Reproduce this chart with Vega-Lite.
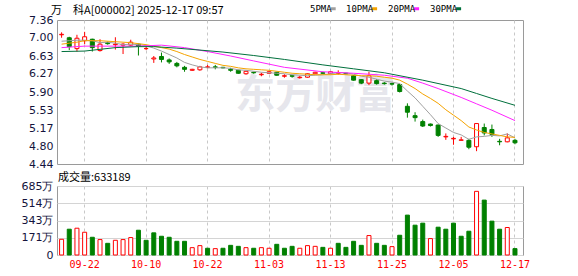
{
  "$schema": "https://vega.github.io/schema/vega-lite/v6.json",
  "padding": {"left": 0, "top": 4, "right": 0, "bottom": 0},
  "background": "white",
  "spacing": 1,
  "config": {
    "view": {"stroke": "#9a9a9a", "strokeWidth": 1},
    "font": "DejaVu Sans",
    "title": {"font": "Noto Sans CJK SC", "fontSize": 11, "fontWeight": "normal", "color": "#000000", "anchor": "start", "frame": "group"}
  },
  "resolve": {"scale": {"x": "independent", "y": "independent"}},
  "datasets": {
    "k": [
      {"d":"09-17","o":7.06,"h":7.11,"l":7.00,"c":7.07,"v":156,"up":1},
      {"d":"09-18","o":7.00,"h":7.02,"l":6.75,"c":6.82,"v":256,"up":0},
      {"d":"09-19","o":6.78,"h":7.06,"l":6.72,"c":6.99,"v":266,"up":1},
      {"d":"09-22","o":6.94,"h":7.12,"l":6.87,"c":7.02,"v":226,"up":1},
      {"d":"09-23","o":6.97,"h":6.98,"l":6.72,"c":6.80,"v":176,"up":0},
      {"d":"09-24","o":6.74,"h":6.97,"l":6.72,"c":6.87,"v":153,"up":1},
      {"d":"09-25","o":6.90,"h":6.92,"l":6.86,"c":6.88,"v":116,"up":0},
      {"d":"09-26","o":6.86,"h":7.01,"l":6.76,"c":6.87,"v":146,"up":1},
      {"d":"09-29","o":6.85,"h":6.89,"l":6.67,"c":6.87,"v":153,"up":1},
      {"d":"09-30","o":6.85,"h":6.96,"l":6.83,"c":6.91,"v":173,"up":1},
      {"d":"10-09","o":6.87,"h":6.88,"l":6.64,"c":6.83,"v":246,"up":0},
      {"d":"10-10","o":6.78,"h":6.83,"l":6.75,"c":6.78,"v":146,"up":0},
      {"d":"10-13","o":6.57,"h":6.63,"l":6.49,"c":6.59,"v":220,"up":0},
      {"d":"10-14","o":6.62,"h":6.70,"l":6.50,"c":6.56,"v":186,"up":0},
      {"d":"10-15","o":6.55,"h":6.58,"l":6.47,"c":6.51,"v":176,"up":0},
      {"d":"10-16","o":6.48,"h":6.51,"l":6.40,"c":6.43,"v":136,"up":0},
      {"d":"10-17","o":6.40,"h":6.43,"l":6.31,"c":6.36,"v":136,"up":0},
      {"d":"10-20","o":6.34,"h":6.37,"l":6.33,"c":6.36,"v":73,"up":1},
      {"d":"10-21","o":6.35,"h":6.43,"l":6.33,"c":6.41,"v":93,"up":1},
      {"d":"10-22","o":6.40,"h":6.45,"l":6.38,"c":6.41,"v":67,"up":0},
      {"d":"10-23","o":6.41,"h":6.45,"l":6.36,"c":6.40,"v":63,"up":1},
      {"d":"10-24","o":6.40,"h":6.41,"l":6.38,"c":6.39,"v":67,"up":0},
      {"d":"10-27","o":6.36,"h":6.39,"l":6.31,"c":6.34,"v":96,"up":0},
      {"d":"10-28","o":6.34,"h":6.35,"l":6.27,"c":6.28,"v":86,"up":0},
      {"d":"10-29","o":6.27,"h":6.33,"l":6.25,"c":6.32,"v":73,"up":1},
      {"d":"10-30","o":6.30,"h":6.31,"l":6.27,"c":6.29,"v":67,"up":0},
      {"d":"10-31","o":6.25,"h":6.29,"l":6.22,"c":6.26,"v":73,"up":1},
      {"d":"11-03","o":6.28,"h":6.33,"l":6.27,"c":6.31,"v":67,"up":1},
      {"d":"11-04","o":6.30,"h":6.31,"l":6.23,"c":6.24,"v":106,"up":0},
      {"d":"11-05","o":6.22,"h":6.26,"l":6.19,"c":6.23,"v":67,"up":0},
      {"d":"11-06","o":6.23,"h":6.25,"l":6.19,"c":6.22,"v":86,"up":0},
      {"d":"11-07","o":6.19,"h":6.23,"l":6.17,"c":6.20,"v":67,"up":1},
      {"d":"11-10","o":6.20,"h":6.28,"l":6.19,"c":6.27,"v":93,"up":1},
      {"d":"11-11","o":6.27,"h":6.31,"l":6.26,"c":6.30,"v":86,"up":1},
      {"d":"11-12","o":6.29,"h":6.31,"l":6.27,"c":6.28,"v":76,"up":0},
      {"d":"11-13","o":6.27,"h":6.32,"l":6.27,"c":6.31,"v":67,"up":1},
      {"d":"11-14","o":6.28,"h":6.34,"l":6.25,"c":6.29,"v":116,"up":0},
      {"d":"11-17","o":6.28,"h":6.29,"l":6.26,"c":6.27,"v":76,"up":0},
      {"d":"11-18","o":6.23,"h":6.24,"l":6.13,"c":6.14,"v":136,"up":0},
      {"d":"11-19","o":6.15,"h":6.16,"l":6.06,"c":6.08,"v":96,"up":0},
      {"d":"11-20","o":6.08,"h":6.31,"l":6.04,"c":6.23,"v":193,"up":1},
      {"d":"11-21","o":6.13,"h":6.16,"l":6.05,"c":6.07,"v":116,"up":0},
      {"d":"11-24","o":6.08,"h":6.10,"l":6.05,"c":6.07,"v":96,"up":0},
      {"d":"11-25","o":6.07,"h":6.09,"l":6.03,"c":6.06,"v":83,"up":1},
      {"d":"11-26","o":6.05,"h":6.07,"l":5.89,"c":5.91,"v":196,"up":0},
      {"d":"11-27","o":5.61,"h":5.67,"l":5.38,"c":5.49,"v":396,"up":0},
      {"d":"11-28","o":5.42,"h":5.49,"l":5.30,"c":5.38,"v":296,"up":0},
      {"d":"12-01","o":5.30,"h":5.34,"l":5.19,"c":5.21,"v":316,"up":0},
      {"d":"12-02","o":5.25,"h":5.26,"l":5.20,"c":5.22,"v":163,"up":1},
      {"d":"12-03","o":5.23,"h":5.24,"l":4.99,"c":5.02,"v":276,"up":0},
      {"d":"12-04","o":4.99,"h":5.06,"l":4.93,"c":5.00,"v":256,"up":0},
      {"d":"12-05","o":4.95,"h":4.99,"l":4.83,"c":4.96,"v":316,"up":0},
      {"d":"12-08","o":4.92,"h":4.99,"l":4.92,"c":4.93,"v":186,"up":0},
      {"d":"12-09","o":4.92,"h":4.95,"l":4.74,"c":4.78,"v":236,"up":0},
      {"d":"12-10","o":4.79,"h":5.27,"l":4.70,"c":5.26,"v":632,"up":1},
      {"d":"12-11","o":5.18,"h":5.26,"l":5.02,"c":5.07,"v":545,"up":0},
      {"d":"12-12","o":5.14,"h":5.24,"l":4.99,"c":5.04,"v":336,"up":0},
      {"d":"12-15","o":4.90,"h":4.95,"l":4.82,"c":4.89,"v":256,"up":0},
      {"d":"12-16","o":4.89,"h":5.06,"l":4.88,"c":4.97,"v":273,"up":1},
      {"d":"12-17","o":4.92,"h":4.95,"l":4.84,"c":4.87,"v":63.32,"up":0}
    ],
    "ma": [
      {"d":"09-17","m":"5PMA","p":6.93},{"d":"09-18","m":"5PMA","p":6.94},{"d":"09-19","m":"5PMA","p":6.95},{"d":"09-22","m":"5PMA","p":6.95},{"d":"09-23","m":"5PMA","p":6.94},{"d":"09-24","m":"5PMA","p":6.90},{"d":"09-25","m":"5PMA","p":6.91},{"d":"09-26","m":"5PMA","p":6.89},{"d":"09-29","m":"5PMA","p":6.86},{"d":"09-30","m":"5PMA","p":6.87},{"d":"10-09","m":"5PMA","p":6.86},{"d":"10-10","m":"5PMA","p":6.84},{"d":"10-13","m":"5PMA","p":6.79},{"d":"10-14","m":"5PMA","p":6.73},{"d":"10-15","m":"5PMA","p":6.66},{"d":"10-16","m":"5PMA","p":6.59},{"d":"10-17","m":"5PMA","p":6.50},{"d":"10-20","m":"5PMA","p":6.45},{"d":"10-21","m":"5PMA","p":6.41},{"d":"10-22","m":"5PMA","p":6.39},{"d":"10-23","m":"5PMA","p":6.39},{"d":"10-24","m":"5PMA","p":6.39},{"d":"10-27","m":"5PMA","p":6.38},{"d":"10-28","m":"5PMA","p":6.35},{"d":"10-29","m":"5PMA","p":6.34},{"d":"10-30","m":"5PMA","p":6.32},{"d":"10-31","m":"5PMA","p":6.30},{"d":"11-03","m":"5PMA","p":6.29},{"d":"11-04","m":"5PMA","p":6.28},{"d":"11-05","m":"5PMA","p":6.27},{"d":"11-06","m":"5PMA","p":6.25},{"d":"11-07","m":"5PMA","p":6.24},{"d":"11-10","m":"5PMA","p":6.23},{"d":"11-11","m":"5PMA","p":6.24},{"d":"11-12","m":"5PMA","p":6.25},{"d":"11-13","m":"5PMA","p":6.27},{"d":"11-14","m":"5PMA","p":6.29},{"d":"11-17","m":"5PMA","p":6.29},{"d":"11-18","m":"5PMA","p":6.26},{"d":"11-19","m":"5PMA","p":6.22},{"d":"11-20","m":"5PMA","p":6.20},{"d":"11-21","m":"5PMA","p":6.16},{"d":"11-24","m":"5PMA","p":6.12},{"d":"11-25","m":"5PMA","p":6.10},{"d":"11-26","m":"5PMA","p":6.07},{"d":"11-27","m":"5PMA","p":5.92},{"d":"11-28","m":"5PMA","p":5.78},{"d":"12-01","m":"5PMA","p":5.61},{"d":"12-02","m":"5PMA","p":5.44},{"d":"12-03","m":"5PMA","p":5.26},{"d":"12-04","m":"5PMA","p":5.17},{"d":"12-05","m":"5PMA","p":5.08},{"d":"12-08","m":"5PMA","p":5.03},{"d":"12-09","m":"5PMA","p":4.94},{"d":"12-10","m":"5PMA","p":4.99},{"d":"12-11","m":"5PMA","p":5.00},{"d":"12-12","m":"5PMA","p":5.02},{"d":"12-15","m":"5PMA","p":5.01},{"d":"12-16","m":"5PMA","p":5.05},{"d":"12-17","m":"5PMA","p":4.97},
      {"d":"09-17","m":"10PMA","p":6.87},{"d":"09-18","m":"10PMA","p":6.89},{"d":"09-19","m":"10PMA","p":6.91},{"d":"09-22","m":"10PMA","p":6.94},{"d":"09-24","m":"10PMA","p":6.94},{"d":"09-26","m":"10PMA","p":6.92},{"d":"09-30","m":"10PMA","p":6.90},{"d":"10-09","m":"10PMA","p":6.88},{"d":"10-10","m":"10PMA","p":6.86},{"d":"10-13","m":"10PMA","p":6.83},{"d":"10-14","m":"10PMA","p":6.80},{"d":"10-15","m":"10PMA","p":6.77},{"d":"10-16","m":"10PMA","p":6.72},{"d":"10-17","m":"10PMA","p":6.66},{"d":"10-20","m":"10PMA","p":6.61},{"d":"10-21","m":"10PMA","p":6.56},{"d":"10-22","m":"10PMA","p":6.52},{"d":"10-23","m":"10PMA","p":6.48},{"d":"10-24","m":"10PMA","p":6.44},{"d":"10-27","m":"10PMA","p":6.42},{"d":"10-28","m":"10PMA","p":6.39},{"d":"10-29","m":"10PMA","p":6.37},{"d":"10-30","m":"10PMA","p":6.36},{"d":"10-31","m":"10PMA","p":6.35},{"d":"11-03","m":"10PMA","p":6.34},{"d":"11-04","m":"10PMA","p":6.32},{"d":"11-05","m":"10PMA","p":6.30},{"d":"11-06","m":"10PMA","p":6.28},{"d":"11-07","m":"10PMA","p":6.27},{"d":"11-10","m":"10PMA","p":6.26},{"d":"11-11","m":"10PMA","p":6.25},{"d":"11-12","m":"10PMA","p":6.25},{"d":"11-13","m":"10PMA","p":6.25},{"d":"11-14","m":"10PMA","p":6.26},{"d":"11-17","m":"10PMA","p":6.25},{"d":"11-18","m":"10PMA","p":6.24},{"d":"11-19","m":"10PMA","p":6.23},{"d":"11-20","m":"10PMA","p":6.23},{"d":"11-21","m":"10PMA","p":6.22},{"d":"11-24","m":"10PMA","p":6.20},{"d":"11-25","m":"10PMA","p":6.18},{"d":"11-26","m":"10PMA","p":6.14},{"d":"11-27","m":"10PMA","p":6.06},{"d":"11-28","m":"10PMA","p":5.97},{"d":"12-01","m":"10PMA","p":5.86},{"d":"12-02","m":"10PMA","p":5.77},{"d":"12-03","m":"10PMA","p":5.67},{"d":"12-04","m":"10PMA","p":5.54},{"d":"12-05","m":"10PMA","p":5.43},{"d":"12-08","m":"10PMA","p":5.32},{"d":"12-09","m":"10PMA","p":5.19},{"d":"12-10","m":"10PMA","p":5.13},{"d":"12-11","m":"10PMA","p":5.08},{"d":"12-12","m":"10PMA","p":5.05},{"d":"12-15","m":"10PMA","p":5.02},{"d":"12-16","m":"10PMA","p":4.99},{"d":"12-17","m":"10PMA","p":4.98},
      {"d":"09-17","m":"20PMA","p":6.80},{"d":"09-22","m":"20PMA","p":6.83},{"d":"10-09","m":"20PMA","p":6.83},{"d":"10-14","m":"20PMA","p":6.85},{"d":"10-17","m":"20PMA","p":6.80},{"d":"10-22","m":"20PMA","p":6.72},{"d":"10-27","m":"20PMA","p":6.63},{"d":"10-30","m":"20PMA","p":6.53},{"d":"11-05","m":"20PMA","p":6.40},{"d":"11-12","m":"20PMA","p":6.31},{"d":"11-18","m":"20PMA","p":6.28},{"d":"11-24","m":"20PMA","p":6.24},{"d":"11-27","m":"20PMA","p":6.18},{"d":"12-01","m":"20PMA","p":6.08},{"d":"12-03","m":"20PMA","p":5.97},{"d":"12-08","m":"20PMA","p":5.79},{"d":"12-10","m":"20PMA","p":5.66},{"d":"12-12","m":"20PMA","p":5.53},{"d":"12-17","m":"20PMA","p":5.32},
      {"d":"09-17","m":"30PMA","p":6.72},{"d":"09-22","m":"30PMA","p":6.73},{"d":"09-26","m":"30PMA","p":6.80},{"d":"10-09","m":"30PMA","p":6.82},{"d":"10-13","m":"30PMA","p":6.82},{"d":"10-16","m":"30PMA","p":6.79},{"d":"10-21","m":"30PMA","p":6.75},{"d":"10-24","m":"30PMA","p":6.71},{"d":"10-30","m":"30PMA","p":6.64},{"d":"11-05","m":"30PMA","p":6.56},{"d":"11-12","m":"30PMA","p":6.45},{"d":"11-18","m":"30PMA","p":6.37},{"d":"11-24","m":"30PMA","p":6.29},{"d":"12-01","m":"30PMA","p":6.14},{"d":"12-08","m":"30PMA","p":5.97},{"d":"12-10","m":"30PMA","p":5.87},{"d":"12-12","m":"30PMA","p":5.77},{"d":"12-17","m":"30PMA","p":5.63}
    ]
  },
  "vconcat": [
    {
      "width": 466,
      "height": 144,
      "title": {"text": "万　科A[000002] 2025-12-17 09:57", "offset": -2, "dx": -6},
      "data": {"name": "k"},
      "encoding": {
        "x": {
          "field": "d", "type": "ordinal", "sort": null,
          "scale": {"type": "band", "paddingInner": 0, "paddingOuter": 0.32, "align": 0.15,
            "domain": ["09-17","09-18","09-19","09-22","09-23","09-24","09-25","09-26","09-29","09-30","10-09","10-10","10-13","10-14","10-15","10-16","10-17","10-20","10-21","10-22","10-23","10-24","10-27","10-28","10-29","10-30","10-31","11-03","11-04","11-05","11-06","11-07","11-10","11-11","11-12","11-13","11-14","11-17","11-18","11-19","11-20","11-21","11-24","11-25","11-26","11-27","11-28","12-01","12-02","12-03","12-04","12-05","12-08","12-09","12-10","12-11","12-12","12-15","12-16","12-17"]},
          "axis": {"values": ["09-22","10-10","10-22","11-03","11-13","11-25","12-05","12-17"], "labels": false, "ticks": false, "domain": false, "grid": true, "gridDash": [3,3], "gridColor": "#c8c8c8", "bandPosition": 0.5, "title": null}
        }
      },
      "layer": [
        {
          "data": {"values": [{"wm": "东方财富"}]},
          "mark": {"type": "text", "text": "东方财富", "font": "Noto Sans CJK SC", "fontSize": 40, "fontWeight": "bold", "color": "#e6e6ec", "align": "center", "baseline": "middle"},
          "encoding": {
            "x": {"datum": "11-11"},
            "y": {"datum": 5.81, "type": "quantitative", "scale": {"domain": [4.44, 7.36], "zero": false, "nice": false},
              "axis": {"values": [4.44,4.8,5.17,5.53,5.9,6.27,6.63,7.0,7.36], "tickCount": 20, "format": ".2f", "labelFont": "DejaVu Sans", "labelFontSize": 11, "labelColor": "#14143c", "labelOverlap": false, "labelFlush": false, "ticks": false, "domain": false, "gridColor": "#d4d4d4", "labelPadding": 4, "title": null, "minExtent": 56, "maxExtent": 56}}
          }
        },
        {
          "mark": {"type": "rule", "strokeWidth": 1},
          "encoding": {
            "y": {"field": "l", "type": "quantitative", "scale": {"domain": [4.44, 7.36], "zero": false, "nice": false},
              "axis": {"values": [4.44,4.8,5.17,5.53,5.9,6.27,6.63,7.0,7.36], "tickCount": 20, "format": ".2f", "labelFont": "DejaVu Sans", "labelFontSize": 11, "labelColor": "#14143c", "labelOverlap": false, "labelFlush": false, "ticks": false, "domain": false, "gridColor": "#d4d4d4", "labelPadding": 4, "title": null, "minExtent": 56, "maxExtent": 56}},
            "y2": {"field": "h"},
            "color": {"condition": {"test": "datum.c >= datum.o", "value": "#ff0000"}, "value": "#008000"}
          }
        },
        {
          "mark": {"type": "bar", "width": 4, "strokeWidth": 1},
          "encoding": {
            "y": {"field": "o", "type": "quantitative"},
            "y2": {"field": "c"},
            "fill": {"condition": {"test": "datum.c >= datum.o", "value": "#ffffff"}, "value": "#008000"},
            "stroke": {"condition": {"test": "datum.c >= datum.o", "value": "#ff0000"}, "value": "#008000"}
          }
        },
        {
          "data": {"name": "ma"},
          "mark": {"type": "line", "strokeWidth": 1},
          "encoding": {
            "y": {"field": "p", "type": "quantitative"},
            "color": {"field": "m", "type": "nominal",
              "scale": {"domain": ["5PMA","10PMA","20PMA","30PMA"], "range": ["#a0a0a0","#f5a300","#ff22ff","#00703c"]},
              "legend": {"orient": "none", "legendX": 249, "legendY": -16, "direction": "horizontal", "columns": 4, "title": null, "padding": 0,
                "symbolType": "stroke", "symbolSize": 25, "symbolStrokeWidth": 3, "labelOffset": -5, "labelAlign": "left",
                "labelFont": "DejaVu Sans Mono", "labelFontSize": 9, "labelColor": "#000000", "columnPadding": 0,
                "encode": {"symbols": {"update": {"x": {"signal": "length(datum.label) * 5.42 + 5.5"}}}}}}
          }
        }
      ]
    },
    {
      "width": 466,
      "height": 69,
      "title": {"text": "成交量:633189", "offset": -3, "dx": 1},
      "data": {"name": "k"},
      "mark": {"type": "bar", "width": 4, "strokeWidth": 1},
      "encoding": {
        "x": {
          "field": "d", "type": "ordinal", "sort": null,
          "scale": {"type": "band", "paddingInner": 0, "paddingOuter": 0.32, "align": 0.15,
            "domain": ["09-17","09-18","09-19","09-22","09-23","09-24","09-25","09-26","09-29","09-30","10-09","10-10","10-13","10-14","10-15","10-16","10-17","10-20","10-21","10-22","10-23","10-24","10-27","10-28","10-29","10-30","10-31","11-03","11-04","11-05","11-06","11-07","11-10","11-11","11-12","11-13","11-14","11-17","11-18","11-19","11-20","11-21","11-24","11-25","11-26","11-27","11-28","12-01","12-02","12-03","12-04","12-05","12-08","12-09","12-10","12-11","12-12","12-15","12-16","12-17"]},
          "axis": {"values": ["09-22","10-10","10-22","11-03","11-13","11-25","12-05","12-17"], "labelFont": "DejaVu Sans Mono", "labelFontSize": 10, "labelColor": "#ff0000", "labelAngle": 0, "labelPadding": 4, "ticks": false, "domain": false, "grid": true, "gridDash": [3,3], "gridColor": "#c8c8c8", "bandPosition": 0.5, "title": null}
        },
        "y": {"field": "v", "type": "quantitative", "scale": {"domain": [0, 685], "nice": false},
          "axis": {"values": [0, 171.25, 342.5, 513.75, 685], "tickCount": 20, "labelExpr": "datum.value == 0 ? '0' : format(datum.value, '.0f') + '万'", "labelFont": "DejaVu Sans", "labelFontSize": 11, "labelColor": "#14143c", "labelOverlap": false, "labelFlush": false, "ticks": false, "domain": false, "gridColor": "#d4d4d4", "labelPadding": 4, "title": null, "minExtent": 56, "maxExtent": 56}},
        "fill": {"condition": {"test": "datum.up == 1", "value": "#ffffff"}, "value": "#008000"},
        "stroke": {"condition": {"test": "datum.up == 1", "value": "#ff0000"}, "value": "#008000"}
      }
    }
  ]
}
